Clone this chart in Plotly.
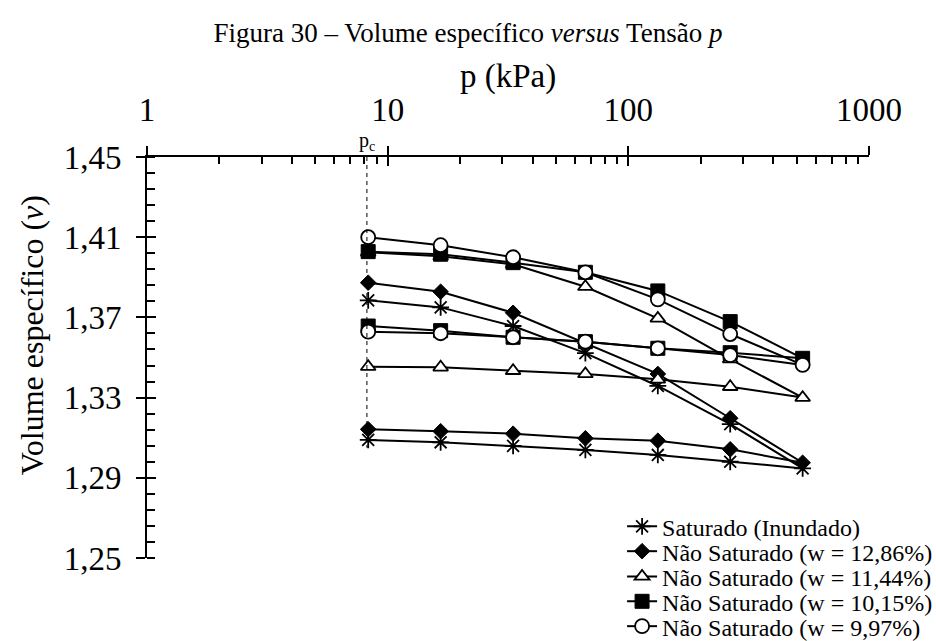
import plotly.graph_objects as go

# Mean stress steps (kPa), loading branch; unloading retraces them backwards
pressure_load = [8.3, 16.6, 33.2, 66.3, 132.6, 265.0, 530.0]
pressure_loop = pressure_load + pressure_load[-2::-1]

# Specific volume: loading values followed by unloading values
v_sat_load = [1.3785, 1.3750, 1.3657, 1.3522, 1.3358, 1.3168, 1.2947]
v_sat_unload = [1.2980, 1.3014, 1.3039, 1.3059, 1.3077, 1.3089]

v_w1286_load = [1.3873, 1.3828, 1.3723, 1.3570, 1.3418, 1.3197, 1.2975]
v_w1286_unload = [1.3042, 1.3085, 1.3097, 1.3120, 1.3132, 1.3142]

v_w1144_load = [1.4025, 1.4005, 1.3965, 1.3853, 1.3695, 1.3492, 1.3300]
v_w1144_unload = [1.3354, 1.3391, 1.3418, 1.3434, 1.3451, 1.3454]

v_w1015_load = [1.4028, 1.4015, 1.3973, 1.3925, 1.3832, 1.3679, 1.3496]
v_w1015_unload = [1.3524, 1.3546, 1.3579, 1.3601, 1.3634, 1.3657]

v_w997_load = [1.4100, 1.4060, 1.4000, 1.3925, 1.3790, 1.3617, 1.3463]
v_w997_unload = [1.3512, 1.3546, 1.3579, 1.3601, 1.3621, 1.3629]

series_names = [
    "Saturado (Inundado)",
    "Não Saturado (w = 12,86%)",
    "Não Saturado (w = 11,44%)",
    "Não Saturado (w = 10,15%)",
    "Não Saturado (w = 9,97%)",
]

# Preconsolidation stress marker
pc_value = 8.2
pc_line_v = [1.45, 1.305]

x_tick_vals = [1, 10, 100, 1000]
x_tick_text = ["1", "10", "100", "1000"]
x_minor_vals = [m * d for d in (1, 10, 100) for m in range(2, 10)]

FONT = "Liberation Serif, Times New Roman, serif"
BLACK = "#000000"

series_values = [
    v_sat_load + v_sat_unload,
    v_w1286_load + v_w1286_unload,
    v_w1144_load + v_w1144_unload,
    v_w1015_load + v_w1015_unload,
    v_w997_load + v_w997_unload,
]

marker_styles = [
    dict(symbol="asterisk-open", size=14, color=BLACK, line=dict(color=BLACK, width=1.8)),
    dict(symbol="diamond", size=12, color=BLACK, line=dict(color=BLACK, width=1)),
    dict(symbol="triangle-up", size=13, color="white", line=dict(color=BLACK, width=1.8)),
    dict(symbol="square", size=14, color=BLACK, line=dict(color=BLACK, width=1)),
    dict(symbol="circle", size=14, color="white", line=dict(color=BLACK, width=1.8)),
]

legend_ids = ["legend", "legend2", "legend3", "legend4", "legend5"]

fig = go.Figure()

for name, vals, mk, lg in zip(series_names, series_values, marker_styles, legend_ids):
    fig.add_trace(go.Scatter(
        x=pressure_loop, y=vals, name=name, mode="lines+markers",
        line=dict(color=BLACK, width=2), marker=mk, legend=lg,
    ))

fig.add_trace(go.Scatter(
    x=[pc_value, pc_value], y=pc_line_v, mode="lines",
    line=dict(color=BLACK, width=1, dash="4px,4px"), showlegend=False,
    hoverinfo="skip",
))

fig.add_annotation(
    x=0.9138, y=1.45, xref="x", yref="y", text="p<sub>c</sub>",
    showarrow=False, xanchor="center", yanchor="bottom", yshift=1,
    font=dict(family=FONT, size=20, color=BLACK),
)

# Axis titles
fig.add_annotation(
    x=0.5, y=1.2005, xref="paper", yref="paper", text="p (kPa)",
    showarrow=False, xanchor="center", yanchor="middle",
    font=dict(family=FONT, size=33, color=BLACK),
)
fig.add_annotation(
    x=-0.159, y=0.556, xref="paper", yref="paper",
    text="Volume específico (<i>v</i>)", textangle=-90,
    showarrow=False, xanchor="center", yanchor="middle",
    font=dict(family=FONT, size=32, color=BLACK),
)

# Legend rows, one per series so the row pitch can be set freely
legend_rows_y = [0.078, 0.016, -0.047, -0.109, -0.171]
legend_layout = {}
for lg, ypos in zip(legend_ids, legend_rows_y):
    legend_layout[lg] = dict(
        x=0.658, xanchor="left", y=ypos, yanchor="middle",
        bgcolor="rgba(0,0,0,0)", borderwidth=0,
        font=dict(family=FONT, size=24, color=BLACK),
        itemsizing="trace",
    )

fig.update_layout(
    width=936, height=641,
    margin=dict(l=147, r=67, t=157, b=83, autoexpand=False),
    paper_bgcolor="white", plot_bgcolor="white",
    separators=", ",
    font=dict(family=FONT, color=BLACK),
    title=dict(
        text="Figura 30 – Volume específico <i>versus</i> Tensão <i>p</i>",
        x=0.5, xref="container", xanchor="center",
        y=1 - 33 / 641, yref="container", yanchor="middle",
        font=dict(family=FONT, size=27, color=BLACK),
    ),
    xaxis=dict(
        type="log", range=[0, 3], side="top",
        showline=True, linecolor=BLACK, linewidth=2,
        ticks="outside", ticklen=9, tickwidth=2, tickcolor=BLACK,
        tickvals=x_tick_vals, ticktext=x_tick_text,
        tickfont=dict(family=FONT, size=33, color=BLACK),
        ticklabelstandoff=12,
        minor=dict(ticks="inside", ticklen=7, tickwidth=2, tickcolor=BLACK,
                   tickvals=x_minor_vals, showgrid=False),
        showgrid=False, zeroline=False,
    ),
    xaxis2=dict(
        type="log", range=[0, 3], side="top", overlaying="x", anchor="y",
        showline=False, ticks="inside", ticklen=9, tickwidth=2, tickcolor=BLACK,
        tickvals=x_tick_vals, showticklabels=False, showgrid=False, zeroline=False,
    ),
    yaxis=dict(
        range=[1.25, 1.45],
        showline=True, linecolor=BLACK, linewidth=2,
        ticks="outside", ticklen=9, tickwidth=2, tickcolor=BLACK,
        tick0=1.25, dtick=0.04, tickformat=".2f",
        tickfont=dict(family=FONT, size=33, color=BLACK),
        ticklabelstandoff=8,
        minor=dict(ticks="inside", ticklen=8, tickwidth=2, tickcolor=BLACK,
                   tick0=1.25, dtick=0.008, showgrid=False),
        showgrid=False, zeroline=False,
    ),
    yaxis2=dict(
        range=[1.25, 1.45], overlaying="y", anchor="x", side="left",
        showline=False, ticks="inside", ticklen=9, tickwidth=2, tickcolor=BLACK,
        tick0=1.25, dtick=0.04, showticklabels=False, showgrid=False, zeroline=False,
    ),
    **legend_layout,
)

fig.add_trace(go.Scatter(x=[None], y=[None], xaxis="x2", yaxis="y2",
                         showlegend=False, hoverinfo="skip"))

fig.write_html("out.html")
